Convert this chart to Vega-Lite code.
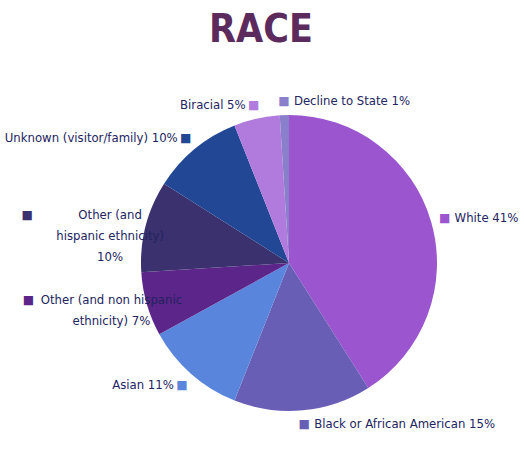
{
  "$schema": "https://vega.github.io/schema/vega-lite/v6.json",
  "autosize": {"type": "none"},
  "width": 470,
  "height": 386,
  "padding": {"left": 54, "top": 70, "right": 0, "bottom": 0},
  "background": "white",
  "title": {
    "text": "RACE",
    "font": "DejaVu Sans Condensed, Lato",
    "fontSize": 39,
    "fontWeight": "bold",
    "color": "#5C2B5E",
    "anchor": "middle",
    "dx": -28,
    "offset": 20
  },
  "view": {"stroke": null},
  "data": {
    "values": [
      {"cat": "White", "label": "White  41%", "value": 41, "idx": 1},
      {"cat": "Black or African American", "label": "Black or African American 15%", "value": 15, "idx": 2},
      {"cat": "Asian", "label": "Asian  11%", "value": 11, "idx": 3},
      {"cat": "Other (and non hispanic ethnicity)", "label": "Other (and non hispanic\nethnicity)  7%", "value": 7, "idx": 4},
      {"cat": "Other (and hispanic ethnicity)", "label": "Other (and\nhispanic ethnicity)\n10%", "value": 10, "idx": 5},
      {"cat": "Unknown (visitor/family)", "label": "Unknown (visitor/family) 10%", "value": 10, "idx": 6},
      {"cat": "Biracial", "label": "Biracial 5%", "value": 5, "idx": 7},
      {"cat": "Decline to State", "label": "Decline to State 1%", "value": 1, "idx": 8}
    ]
  },
  "encoding": {
    "theta": {"field": "value", "type": "quantitative", "stack": true},
    "order": {"field": "idx", "type": "quantitative"}
  },
  "layer": [
    {
      "mark": {"type": "arc", "outerRadius": 148},
      "encoding": {
        "color": {
          "field": "cat",
          "type": "nominal",
          "legend": null,
          "scale": {
            "domain": ["White", "Black or African American", "Asian", "Other (and non hispanic ethnicity)", "Other (and hispanic ethnicity)", "Unknown (visitor/family)", "Biracial", "Decline to State"],
            "range": ["#9A55CF", "#685EB6", "#5A85DC", "#5C2589", "#3A316E", "#224795", "#B07BDD", "#8A7FCB"]
          }
        }
      }
    },
    {
      "mark": {"type": "text", "radius": 162, "font": "DejaVu Sans", "fontSize": 12, "align": "center", "baseline": "middle"},
      "encoding": {
        "text": {"condition": {"test": "indexof(['White','Black or African American','Decline to State','Asian','Unknown (visitor/family)','Biracial'], datum.cat) >= 0", "value": "■"}, "value": ""},
        "color": {"field": "cat", "type": "nominal", "legend": null}
      }
    },
    {
      "mark": {"type": "text", "radius": 162, "dx": -105, "dy": -8, "font": "DejaVu Sans", "fontSize": 12, "align": "center", "baseline": "middle"},
      "encoding": {
        "text": {"condition": {"test": "indexof(['Other (and non hispanic ethnicity)','Other (and hispanic ethnicity)'], datum.cat) >= 0", "value": "■"}, "value": ""},
        "color": {"field": "cat", "type": "nominal", "legend": null}
      }
    },
    {
      "mark": {"type": "text", "radius": 162, "dx": 10, "align": "left", "baseline": "middle", "font": "DejaVu Sans Condensed, Lato", "fontSize": 13, "color": "#23235F"},
      "encoding": {
        "text": {"condition": {"test": "indexof(['White','Black or African American','Decline to State'], datum.cat) >= 0", "field": "label"}, "value": ""}
      }
    },
    {
      "mark": {"type": "text", "radius": 162, "dx": -8, "align": "right", "baseline": "middle", "font": "DejaVu Sans Condensed, Lato", "fontSize": 13, "color": "#23235F"},
      "encoding": {
        "text": {"condition": {"test": "indexof(['Asian','Unknown (visitor/family)','Biracial'], datum.cat) >= 0", "field": "label"}, "value": ""}
      }
    },
    {
      "mark": {"type": "text", "radius": 162, "dx": -22, "dy": -8, "align": "center", "baseline": "middle", "font": "DejaVu Sans Condensed, Lato", "fontSize": 13, "lineBreak": "\n", "lineHeight": 21, "color": "#23235F"},
      "encoding": {
        "text": {"condition": {"test": "indexof(['Other (and non hispanic ethnicity)','Other (and hispanic ethnicity)'], datum.cat) >= 0", "field": "label"}, "value": ""}
      }
    }
  ]
}
